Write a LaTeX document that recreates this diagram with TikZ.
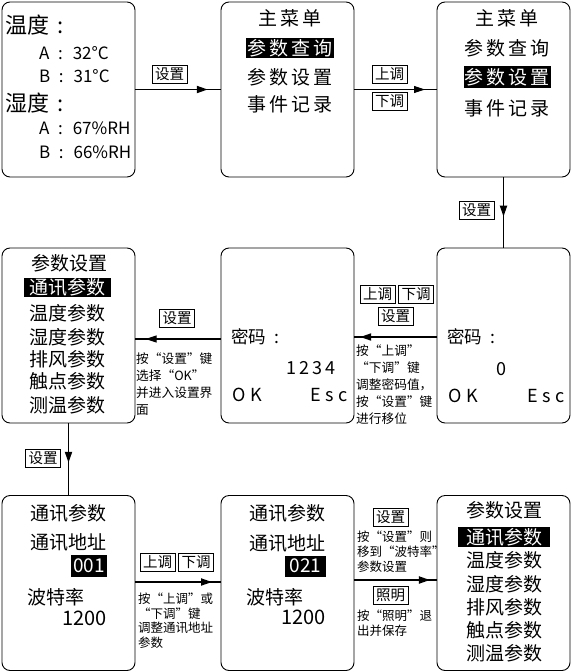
\documentclass[tikz,border=0pt]{standalone}
\usepackage{fontspec}
\setmainfont{Noto Sans CJK SC}
\usetikzlibrary{arrows.meta,decorations.markings}
\tikzset{
  scr/.style={draw, line width=0.9pt, rounded corners=8pt, minimum width=133pt, minimum height=175pt, inner sep=0pt},
  lbl/.style={inner sep=0pt, font=\fontsize{19}{19}\selectfont},
  inv/.style={fill=black, text=white, inner sep=0pt, font=\fontsize{19}{19}\selectfont},
  keybox/.style={draw, line width=0.8pt, inner xsep=2pt, inner ysep=0pt, minimum height=18pt, minimum width=35pt, font=\fontsize{14.5}{15}\selectfont},
  note/.style={inner sep=0pt, align=left, anchor=north west},
  thk/.style={line width=1.8pt},
  thn/.style={line width=0.8pt},
  tipat/.style={postaction=decorate, decoration={markings, mark=at position #1 with {\arrow{Triangle[length=11pt,width=7pt]}}}},
}
\begin{document}
\begin{tikzpicture}[x=1pt,y=-1pt]
\useasboundingbox (0,0) rectangle (571,672);
% screens
\node[scr] (A) at (68.5,89.5) {};
\node[scr] (B) at (287.5,89.5) {};
\node[scr] (C) at (503.5,89.5) {};
\node[scr] (D) at (68.5,335.5) {};
\node[scr] (F) at (287.5,335.5) {};
\node[scr] (E) at (503.5,335.5) {};
\node[scr] (G) at (68.5,583) {};
\node[scr] (H) at (287.5,583) {};
\node[scr] (I) at (503.5,583) {};
% screen A
\node[lbl, anchor=west, font=\fontsize{22}{22}\selectfont] (a1) at (5,25) {温度\hspace{8pt}:};
\node[lbl, anchor=west, font=\fontsize{17}{17}\selectfont] (a2) at (39,53) {A\hspace{8.5pt}:\hspace{10pt}32°C};
\node[lbl, anchor=west, font=\fontsize{17}{17}\selectfont] (a3) at (39,76) {B\hspace{8.5pt}:\hspace{10pt}31°C};
\node[lbl, anchor=west, font=\fontsize{22}{22}\selectfont] (a4) at (5,103) {湿度\hspace{8pt}:};
\node[lbl, anchor=west, font=\fontsize{17}{17}\selectfont] (a5) at (39,128) {A\hspace{8.5pt}:\hspace{10pt}67\%RH};
\node[lbl, anchor=west, font=\fontsize{17}{17}\selectfont] (a6) at (39,152) {B\hspace{8.5pt}:\hspace{10pt}66\%RH};
% screen B
\node[lbl] (b1) at (290,18) {主\,菜\,单};
\node[inv, minimum width=88pt, minimum height=20pt] (b2) at (290,48) {参\,数\,查\,询};
\node[lbl] (b3) at (290,77) {参\,数\,设\,置};
\node[lbl] (b4) at (290,104) {事\,件\,记\,录};
% screen C
\node[lbl] (c1) at (507,18) {主\,菜\,单};
\node[lbl] (c2) at (507,48) {参\,数\,查\,询};
\node[inv, minimum width=87pt, minimum height=22pt] (c3) at (507,77) {参\,数\,设\,置};
\node[lbl] (c4) at (507,108) {事\,件\,记\,录};
% screen D
\node[lbl] (d1) at (69,263) {参数设置};
\node[inv, minimum width=87pt, minimum height=19pt] (d2) at (67.5,287.5) {通讯参数};
\node[lbl] (d3) at (67.5,313) {温度参数};
\node[lbl] (d4) at (67.5,337) {湿度参数};
\node[lbl] (d5) at (67.5,359) {排风参数};
\node[lbl] (d6) at (67.5,381) {触点参数};
\node[lbl] (d7) at (67.5,405) {测温参数};
% screen F
\node[lbl, anchor=west, font=\fontsize{17.5}{17.5}\selectfont] (f1) at (231,337) {密码\hspace{8pt}:};
\node[lbl, anchor=east, font=\fontsize{18}{18}\selectfont] (f2) at (336,368) {1\hspace{3pt}2\hspace{3pt}3\hspace{3pt}4};
\node[lbl, anchor=west, font=\fontsize{18}{18}\selectfont] (f3) at (232,395) {O\hspace{5pt}K};
\node[lbl, anchor=east, font=\fontsize{18}{18}\selectfont] (f4) at (348,395) {E\hspace{4.5pt}s\hspace{4.5pt}c};
% screen E
\node[lbl, anchor=west, font=\fontsize{17.5}{17.5}\selectfont] (e1) at (447,337) {密码\hspace{8pt}:};
\node[lbl, font=\fontsize{18}{18}\selectfont] (e2) at (501,369) {0};
\node[lbl, anchor=west, font=\fontsize{18}{18}\selectfont] (e3) at (448,396) {O\hspace{5pt}K};
\node[lbl, anchor=east, font=\fontsize{18}{18}\selectfont] (e4) at (565,396) {E\hspace{4.5pt}s\hspace{4.5pt}c};
% screen G
\node[lbl] (g1) at (68.5,513) {通讯参数};
\node[lbl] (g2) at (68.5,542) {通讯地址};
\node[inv, minimum width=36pt, minimum height=22pt, font=\fontsize{19}{19}\selectfont] (g3) at (89,566) {001};
\node[lbl, anchor=west] (g4) at (27,597) {波特率};
\node[lbl, anchor=east, font=\fontsize{20}{20}\selectfont] (g5) at (107,618) {1200};
% screen H
\node[lbl] (h1) at (287.5,513) {通讯参数};
\node[lbl] (h2) at (287.5,543) {通讯地址};
\node[inv, minimum width=41pt, minimum height=21pt, font=\fontsize{19}{19}\selectfont] (h3) at (305.5,566) {021};
\node[lbl, anchor=west] (h4) at (246,597) {波特率};
\node[lbl, anchor=east, font=\fontsize{20}{20}\selectfont] (h5) at (326,617) {1200};
% screen I
\node[lbl] (i1) at (504.5,510) {参数设置};
\node[inv, minimum width=92pt, minimum height=20pt] (i2) at (504,537) {通讯参数};
\node[lbl] (i3) at (504.5,560) {温度参数};
\node[lbl] (i4) at (504.5,584) {湿度参数};
\node[lbl] (i5) at (504.5,607) {排风参数};
\node[lbl] (i6) at (504.5,630) {触点参数};
\node[lbl] (i7) at (504.5,653) {测温参数};
% connectors
\draw[thk, tipat=0.85] (A.east) -- (B.west);
\draw[thn, tipat=0.86] (B.east) -- (C.west);
\draw[thk, tipat=0.56] (C.south) -- (E.north);
\draw[thk, tipat=0.93] ([yshift=-1.5pt]E.west) -- ([yshift=-1.5pt]F.east);
\draw[line width=1.2pt, tipat=0.88] ([yshift=-3.5pt]F.west) -- ([yshift=-3.5pt]D.east);
\draw[thk, tipat=0.55] (D.south) -- (G.north);
\draw[thk, tipat=0.9] ([yshift=1pt]G.east) -- ([yshift=1pt]H.west);
\draw[thk, tipat=0.92] ([yshift=3pt]H.east) -- ([yshift=3pt]I.west);
% key labels
\node[keybox] (k1) at (169.5,74.5) {设置};
\node[keybox] (k2) at (389.5,74) {上调};
\node[keybox] (k3) at (389.5,101.5) {下调};
\node[keybox] (k4) at (476.5,210) {设置};
\node[keybox] (k5) at (377.5,294) {上调};
\node[keybox] (k6) at (416,294) {下调};
\node[keybox] (k7) at (395.5,316) {设置};
\node[keybox] (k8) at (177,318.5) {设置};
\node[keybox] (k9) at (43,458) {设置};
\node[keybox] (k10) at (157.5,562) {上调};
\node[keybox] (k11) at (196,562) {下调};
\node[keybox] (k12) at (390.5,517) {设置};
\node[keybox] (k13) at (390.5,595) {照明};
% notes
\node[note, font=\fontsize{12.7}{17}\selectfont] (n1) at (356,345) {按“上调”\\“下调”键\\调整密码值，\\按“设置”键\\进行移位};
\node[note, font=\fontsize{12.7}{17}\selectfont] (n2) at (136,353) {按“设置”键\\选择“OK”\\并进入设置界\\面};
\node[note, font=\fontsize{12.5}{14.5}\selectfont] (n3) at (138,593) {按“上调”或\\“下调”键\\调整通讯地址\\参数};
\node[note, font=\fontsize{12.5}{15}\selectfont] (n4) at (357,531) {按“设置”则\\移到“波特率”\\参数设置};
\node[note, font=\fontsize{12.5}{15}\selectfont] (n5) at (357,610) {按“照明”退\\出并保存};
\end{tikzpicture}
\end{document}
